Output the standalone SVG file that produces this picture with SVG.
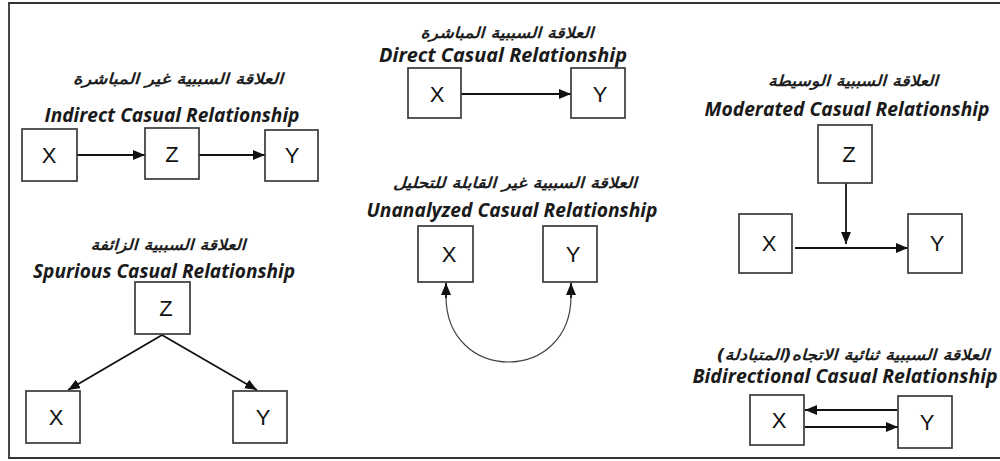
<svg xmlns="http://www.w3.org/2000/svg" width="1000" height="461" viewBox="0 0 1000 461">
  <style>
    .box { fill: #ffffff; stroke: #3a3a3a; stroke-width: 1.7; }
    .var { font-family: "Liberation Sans", Arial, sans-serif; font-size: 22px; fill: #111; text-anchor: middle; }
    .ar { font-family: "DejaVu Sans", sans-serif; font-size: 15px; font-weight: bold; font-style: italic; fill: #1e1e1e; text-anchor: middle; direction: rtl; }
    .en { font-family: "Open Sans", "Liberation Sans", sans-serif; font-size: 19px; font-weight: bold; font-style: italic; fill: #1a1a1a; text-anchor: middle; }
    .edge { fill: none; stroke: #111; stroke-width: 1.8; }
    .thin { fill: none; stroke: #444; stroke-width: 1.2; }
  </style>
  <defs>
    <marker id="head" viewBox="0 0 12 10" refX="12" refY="5" markerWidth="12" markerHeight="10" markerUnits="userSpaceOnUse" orient="auto">
      <path d="M0,0 L12,5 L0,10 Z" fill="#111"/>
    </marker>
  </defs>

  <rect width="1000" height="461" fill="#ffffff"/>
  <!-- outer frame (open on the right) -->
  <path d="M1000,3 H9 V458 H1000" fill="none" stroke="#333" stroke-width="1.8"/>

  <!-- titles -->
  <g id="titles">
    <text class="ar" x="178" y="84" textLength="210" lengthAdjust="spacingAndGlyphs">العلاقة السببية غير المباشرة</text>
    <text class="en" x="172" y="122" textLength="255" lengthAdjust="spacingAndGlyphs">Indirect Casual Relationship</text>
    <text class="ar" x="168" y="250" textLength="155" lengthAdjust="spacingAndGlyphs">العلاقة السببية الزائفة</text>
    <text class="en" x="164" y="278" textLength="262" lengthAdjust="spacingAndGlyphs">Spurious Casual Relationship</text>
    <text class="ar" x="507" y="38" textLength="173" lengthAdjust="spacingAndGlyphs">العلاقة السببية المباشرة</text>
    <text class="en" x="503" y="62" textLength="248" lengthAdjust="spacingAndGlyphs">Direct Casual Relationship</text>
    <text class="ar" x="515" y="188" textLength="244" lengthAdjust="spacingAndGlyphs">العلاقة السببية غير القابلة للتحليل</text>
    <text class="en" x="512" y="217" textLength="291" lengthAdjust="spacingAndGlyphs">Unanalyzed Casual Relationship</text>
    <text class="ar" x="853" y="86" textLength="170" lengthAdjust="spacingAndGlyphs">العلاقة السببية الوسيطة</text>
    <text class="en" x="847" y="116" textLength="285" lengthAdjust="spacingAndGlyphs">Moderated Casual Relationship</text>
    <text class="ar" x="853" y="360" textLength="273" lengthAdjust="spacingAndGlyphs">العلاقة السببية ثنائية الاتجاه(المتبادلة)</text>
    <text class="en" x="845" y="383" textLength="305" lengthAdjust="spacingAndGlyphs">Bidirectional Casual Relationship</text>
  </g>

  <!-- connectors -->
  <g id="connectors">
    <line class="edge" x1="77" y1="155" x2="145" y2="155" marker-end="url(#head)"/>
    <line class="edge" x1="199" y1="155" x2="265" y2="155" marker-end="url(#head)"/>
    <line class="edge" x1="162" y1="335" x2="68" y2="390" marker-end="url(#head)"/>
    <line class="edge" x1="162" y1="335" x2="257" y2="390" marker-end="url(#head)"/>
    <line class="edge" x1="461" y1="94" x2="571" y2="94" marker-end="url(#head)"/>
    <path class="thin" d="M446,296 C446,384 571,384 571,296"/>
    <line class="edge" x1="446" y1="298" x2="446" y2="283" marker-end="url(#head)"/>
    <line class="edge" x1="571" y1="298" x2="571" y2="283" marker-end="url(#head)"/>
    <line class="edge" x1="846" y1="183" x2="846" y2="244" marker-end="url(#head)"/>
    <line class="edge" x1="795" y1="248" x2="908" y2="248" marker-end="url(#head)"/>
    <line class="edge" x1="897" y1="410" x2="805" y2="410" marker-end="url(#head)"/>
    <line class="edge" x1="805" y1="427" x2="898" y2="427" marker-end="url(#head)"/>
  </g>

  <!-- indirect -->
  <g id="ind-x"><rect class="box" x="22" y="129" width="55" height="52"/><text class="var" x="49" y="163">X</text></g>
  <g id="ind-z"><rect class="box" x="145" y="128" width="54" height="51"/><text class="var" x="172" y="162">Z</text></g>
  <g id="ind-y"><rect class="box" x="265" y="130" width="53" height="51"/><text class="var" x="292" y="163">Y</text></g>

  <!-- spurious -->
  <g id="spu-z"><rect class="box" x="135" y="282" width="55" height="52"/><text class="var" x="166" y="316">Z</text></g>
  <g id="spu-x"><rect class="box" x="26" y="391" width="54" height="52"/><text class="var" x="56" y="425">X</text></g>
  <g id="spu-y"><rect class="box" x="233" y="391" width="54" height="52"/><text class="var" x="263" y="425">Y</text></g>

  <!-- direct -->
  <g id="dir-x"><rect class="box" x="408" y="68" width="53" height="50"/><text class="var" x="437" y="102">X</text></g>
  <g id="dir-y"><rect class="box" x="571" y="68" width="54" height="50"/><text class="var" x="600" y="102">Y</text></g>

  <!-- unanalyzed -->
  <g id="una-x"><rect class="box" x="418" y="226" width="55" height="56"/><text class="var" x="449" y="262">X</text></g>
  <g id="una-y"><rect class="box" x="543" y="226" width="54" height="56"/><text class="var" x="573" y="262">Y</text></g>

  <!-- moderated -->
  <g id="mod-z"><rect class="box" x="818" y="125" width="54" height="58"/><text class="var" x="849" y="162">Z</text></g>
  <g id="mod-x"><rect class="box" x="739" y="214" width="53" height="59"/><text class="var" x="769" y="251">X</text></g>
  <g id="mod-y"><rect class="box" x="908" y="214" width="54" height="59"/><text class="var" x="937" y="251">Y</text></g>

  <!-- bidirectional -->
  <g id="bid-x"><rect class="box" x="750" y="395" width="54" height="50"/><text class="var" x="779" y="428">X</text></g>
  <g id="bid-y"><rect class="box" x="898" y="396" width="54" height="52"/><text class="var" x="927" y="430">Y</text></g>
</svg>
